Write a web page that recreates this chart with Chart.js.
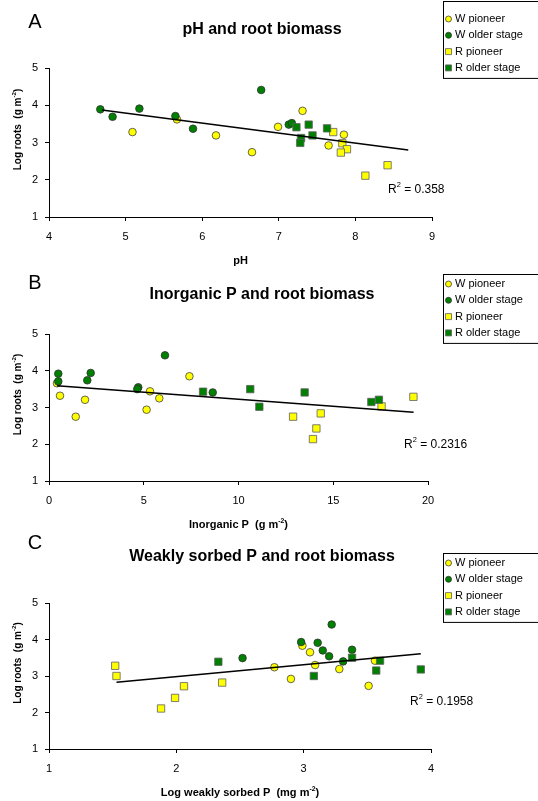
<!DOCTYPE html>
<html>
<head>
<meta charset="utf-8">
<script src="https://cdn.jsdelivr.net/npm/chart.js@4.4.1/dist/chart.umd.min.js"></script>
<style>
  html, body { margin: 0; padding: 0; background: #fff; }
  #wrap { position: relative; width: 538px; height: 801px; overflow: hidden; }
  #wrap canvas { position: absolute; left: 0; top: 0; }
</style>
</head>
<body>
<div id="wrap">
  <canvas id="chartA" width="538" height="801"></canvas>
  <canvas id="chartB" width="538" height="801"></canvas>
  <canvas id="chartC" width="538" height="801"></canvas>
</div>
<script>
// series labels
const seriesNames = ["W pioneer", "W older stage", "R pioneer", "R older stage"];

// A: pH vs log roots  [x, y]
const wPioneerA = [[5.09,3.28],[5.67,3.62],[6.18,3.19],[6.65,2.74],[6.99,3.42],[7.31,3.85],[7.65,2.92],[7.85,3.21]];
const wOlderA   = [[4.67,3.89],[4.83,3.69],[5.18,3.91],[5.65,3.71],[5.88,3.37],[6.77,4.41],[7.13,3.48],[7.17,3.52]];
const rPioneerA = [[7.71,3.28],[7.83,2.98],[7.89,2.82],[7.81,2.73],[8.13,2.11],[8.42,2.39]];
const rOlderA   = [[7.23,3.41],[7.39,3.48],[7.29,3.12],[7.28,2.99],[7.44,3.19],[7.63,3.38]];
const trendA    = [[4.69,3.87],[8.69,2.80]];

// B: inorganic P vs log roots
const wPioneerB = [[0.42,3.66],[0.58,3.32],[1.41,2.75],[1.90,3.21],[5.15,2.94],[5.33,3.44],[5.82,3.25],[7.41,3.85]];
const wOlderB   = [[0.49,3.92],[0.49,3.71],[2.20,3.94],[2.02,3.74],[4.71,3.55],[4.66,3.50],[6.12,4.42],[8.64,3.41]];
const rPioneerB = [[12.88,2.75],[14.34,2.84],[14.11,2.43],[13.93,2.14],[17.55,3.03],[19.23,3.29]];
const rOlderB   = [[8.13,3.43],[10.62,3.50],[11.10,3.02],[13.49,3.41],[17.01,3.15],[17.41,3.21]];
const trendB    = [[0.42,3.59],[19.24,2.87]];

// C: log weakly sorbed P vs log roots
const wPioneerC = [[2.77,3.24],[2.90,2.92],[2.99,3.83],[3.05,3.65],[3.09,3.30],[3.28,3.19],[3.51,2.73],[3.56,3.42]];
const wOlderC   = [[2.52,3.49],[2.98,3.93],[3.11,3.91],[3.15,3.70],[3.22,4.41],[3.20,3.54],[3.31,3.40],[3.38,3.72]];
const rPioneerC = [[1.52,3.28],[1.53,3.00],[1.88,2.11],[1.99,2.40],[2.06,2.72],[2.36,2.82]];
const rOlderC   = [[2.33,3.39],[3.08,3.00],[3.38,3.50],[3.57,3.15],[3.60,3.42],[3.92,3.18]];
const trendC    = [[1.53,2.83],[3.92,3.61]];

// tick labels
const yTicks  = [1, 2, 3, 4, 5];
const xTicksA = [4, 5, 6, 7, 8, 9];
const xTicksB = [0, 5, 10, 15, 20];
const xTicksC = [1, 2, 3, 4];

const FONT = "'Liberation Sans', Arial, sans-serif";
const YELLOW = "#ffff00", GREEN = "#008000";

const markerStyles = [
  { style: "circle", fill: YELLOW, stroke: "#404040" },
  { style: "circle", fill: GREEN,  stroke: "#303030" },
  { style: "rect",   fill: YELLOW, stroke: "#606060" },
  { style: "rect",   fill: GREEN,  stroke: "#606060" }
];

const toXY = arr => arr.map(p => ({ x: p[0], y: p[1] }));

// text with superscript pieces
function richText(ctx, parts, x, y, size, bold, align) {
  const w = parts.map(p => {
    ctx.font = (bold ? "bold " : "") + (p.sup ? size * 0.62 : size) + "px " + FONT;
    return ctx.measureText(p.t).width;
  });
  const total = w.reduce((a, b) => a + b, 0);
  let cx = align === "center" ? x - total / 2 : x;
  ctx.textAlign = "left";
  ctx.textBaseline = "middle";
  parts.forEach((p, i) => {
    ctx.font = (bold ? "bold " : "") + (p.sup ? size * 0.62 : size) + "px " + FONT;
    ctx.fillText(p.t, cx, p.sup ? y - size * 0.38 : y);
    cx += w[i];
  });
}

const decor = {
  id: "decor",
  afterDraw(chart, args, o) {
    const ctx = chart.ctx;
    ctx.save();
    ctx.fillStyle = "#000";
    // panel letter
    ctx.font = "20px " + FONT;
    ctx.textAlign = "center";
    ctx.textBaseline = "middle";
    ctx.fillText(o.letter, o.letterX, o.letterY);
    // title
    ctx.font = "bold 16px " + FONT;
    ctx.fillText(o.title, o.titleX, o.titleY);
    // axis titles
    const area = chart.chartArea;
    richText(ctx, o.xTitle, (area.left + area.right) / 2, area.bottom + 44, 11, true, "center");
    ctx.save();
    ctx.translate(18.5, (area.top + area.bottom) / 2 - 13);
    ctx.rotate(-Math.PI / 2);
    richText(ctx, [{ t: "Log roots  (g m" }, { t: "-2", sup: true }, { t: ")" }], 0, 0, 10, true, "center");
    ctx.restore();
    // R squared
    ctx.fillStyle = "#000";
    richText(ctx, [{ t: "R" }, { t: "2", sup: true }, { t: " = " + o.r2 }], o.r2X, o.r2Y, 12, false, "left");
    // legend box
    const lx = 443.5, top = o.legendTop;
    ctx.strokeStyle = "#000";
    ctx.lineWidth = 1;
    ctx.strokeRect(lx, top + 0.5, 110, o.legendFirst - top + 16.3 * 3 + 10);
    seriesNames.forEach((name, i) => {
      const m = markerStyles[i];
      const y = o.legendFirst + i * 16.3;
      ctx.fillStyle = m.fill;
      ctx.strokeStyle = m.stroke;
      ctx.lineWidth = 0.8;
      ctx.beginPath();
      if (m.style === "circle") ctx.arc(448.5, y, 3, 0, Math.PI * 2);
      else ctx.rect(445.5, y - 3, 6, 6);
      ctx.fill();
      ctx.stroke();
      ctx.fillStyle = "#000";
      ctx.font = "11px " + FONT;
      ctx.textAlign = "left";
      ctx.textBaseline = "middle";
      ctx.fillText(name, 455, y);
    });
    ctx.restore();
  }
};

function makeChart(id, series, trend, xTicks, box, deco) {
  const datasets = series.map((s, i) => ({
    type: "scatter",
    label: seriesNames[i],
    data: toXY(s),
    pointStyle: markerStyles[i].style,
    pointRadius: markerStyles[i].style === "rect" ? 5.2 : 3.8,
    backgroundColor: markerStyles[i].fill,
    borderColor: markerStyles[i].stroke,
    borderWidth: 0.8,
    order: 4 - i
  }));
  datasets.push({
    type: "line",
    label: "trend",
    data: toXY(trend),
    borderColor: "#000",
    borderWidth: 1.5,
    pointRadius: 0,
    fill: false,
    order: 0
  });

  const axisCommon = {
    type: "linear",
    grid: { drawOnChartArea: false, drawTicks: true, tickLength: 4, color: "#000", lineWidth: 1 },
    border: { display: true, color: "#000", width: 1 }
  };

  return new Chart(document.getElementById(id), {
    data: { datasets },
    options: {
      responsive: false,
      animation: false,
      events: [],
      layout: { padding: { left: 0, top: box.top, right: 538 - box.right, bottom: 801 - box.bottom - 40 } },
      plugins: { legend: { display: false }, tooltip: { enabled: false }, decor: deco },
      scales: {
        x: Object.assign({}, axisCommon, {
          min: xTicks[0], max: xTicks[xTicks.length - 1],
          afterFit(s) { s.height = 40; },
          afterBuildTicks(s) { s.ticks = xTicks.map(v => ({ value: v })); },
          ticks: { color: "#000", font: { family: FONT, size: 11 }, padding: 9, maxRotation: 0, autoSkip: false }
        }),
        y: Object.assign({}, axisCommon, {
          min: yTicks[0], max: yTicks[yTicks.length - 1],
          afterFit(s) { s.width = box.left; },
          afterBuildTicks(s) { s.ticks = yTicks.map(v => ({ value: v })); },
          ticks: { color: "#000", font: { family: FONT, size: 11 }, padding: 7 }
        })
      }
    },
    plugins: [decor]
  });
}

makeChart("chartA", [wPioneerA, wOlderA, rPioneerA, rOlderA], trendA, xTicksA,
  { left: 49, right: 432, top: 68, bottom: 217 },
  { letter: "A", letterX: 35, letterY: 22, title: "pH and root biomass", titleX: 262, titleY: 30,
    xTitle: [{ t: "pH" }], r2: "0.358", r2X: 388, r2Y: 190, legendTop: 1, legendFirst: 19 });

makeChart("chartB", [wPioneerB, wOlderB, rPioneerB, rOlderB], trendB, xTicksB,
  { left: 49, right: 428, top: 334, bottom: 481 },
  { letter: "B", letterX: 35, letterY: 283.5, title: "Inorganic P and root biomass", titleX: 262, titleY: 295,
    xTitle: [{ t: "Inorganic P  (g m" }, { t: "-2", sup: true }, { t: ")" }], r2: "0.2316", r2X: 404, r2Y: 445,
    legendTop: 274, legendFirst: 284 });

makeChart("chartC", [wPioneerC, wOlderC, rPioneerC, rOlderC], trendC, xTicksC,
  { left: 49, right: 431, top: 603, bottom: 749 },
  { letter: "C", letterX: 35, letterY: 543, title: "Weakly sorbed P and root biomass", titleX: 262, titleY: 557,
    xTitle: [{ t: "Log weakly sorbed P  (mg m" }, { t: "-2", sup: true }, { t: ")" }], r2: "0.1958", r2X: 410, r2Y: 702,
    legendTop: 553, legendFirst: 563 });
</script>
</body>
</html>
